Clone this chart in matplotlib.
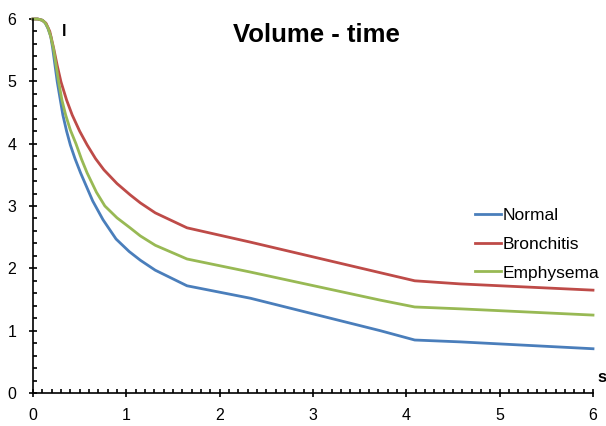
import matplotlib
matplotlib.use("Agg")
import matplotlib.pyplot as plt
from matplotlib.ticker import MultipleLocator

plt.rcParams['font.family'] = ['Liberation Sans', 'DejaVu Sans']

# Data (time in s, volume in l)
normalX = [0, 0.05, 0.1, 0.13, 0.16, 0.19, 0.21, 0.26, 0.32, 0.36, 0.40, 0.45, 0.51, 0.64, 0.75, 0.89,
           1.03, 1.15, 1.31, 1.65, 2.33, 3.72, 4.09, 4.58, 6]
normalY = [6, 6.0, 5.98, 5.94, 5.85, 5.72, 5.54, 4.99, 4.46, 4.2, 3.98, 3.76, 3.53, 3.08, 2.78, 2.47,
           2.27, 2.13, 1.97, 1.72, 1.52, 1.00, 0.85, 0.82, 0.71]

bronchX = [0, 0.05, 0.1, 0.14, 0.18, 0.22, 0.26, 0.30, 0.36, 0.42, 0.50, 0.58, 0.67, 0.76, 0.90,
           1.04, 1.15, 1.31, 1.65, 2.33, 3.72, 4.09, 4.58, 6]
bronchY = [6, 6.0, 5.98, 5.93, 5.8, 5.54, 5.25, 4.99, 4.70, 4.46, 4.2, 3.98, 3.76, 3.58, 3.36,
           3.18, 3.05, 2.89, 2.65, 2.42, 1.93, 1.80, 1.75, 1.65]

emphX = [0, 0.05, 0.1, 0.13, 0.16, 0.19, 0.22, 0.275, 0.31, 0.35, 0.40, 0.46, 0.52, 0.58, 0.68, 0.77, 0.90,
         1.04, 1.15, 1.31, 1.65, 2.33, 3.72, 4.09, 4.58, 6]
emphY = [6, 6.0, 5.98, 5.94, 5.86, 5.72, 5.52, 4.99, 4.70, 4.46, 4.22, 4.0, 3.75, 3.53, 3.22, 3.0, 2.81,
         2.65, 2.52, 2.37, 2.15, 1.94, 1.49, 1.38, 1.35, 1.25]

fig = plt.figure(figsize=(6.06, 4.26), dpi=100)
ax = fig.add_axes([33 / 606, 1 - 393 / 426, 560 / 606, 374 / 426])

lw = 2.0
ax.plot(normalX, normalY, color="#4A7EBB", lw=lw, label="Normal", clip_on=False, solid_joinstyle="round")
ax.plot(bronchX, bronchY, color="#BE4B48", lw=lw, label="Bronchitis", clip_on=False, solid_joinstyle="round")
ax.plot(emphX, emphY, color="#98B954", lw=lw, label="Emphysema", clip_on=False, solid_joinstyle="round")

ax.set_xlim(0, 6)
ax.set_ylim(0, 6)
ax.xaxis.set_major_locator(MultipleLocator(1))
ax.xaxis.set_minor_locator(MultipleLocator(0.1))
ax.yaxis.set_major_locator(MultipleLocator(1))
ax.yaxis.set_minor_locator(MultipleLocator(0.2))

for side in ["top", "right"]:
    ax.spines[side].set_visible(False)
for side in ["left", "bottom"]:
    ax.spines[side].set_linewidth(1.2)

ax.tick_params(which="major", direction="inout", length=6, width=1.2, labelsize=11.5)
ax.tick_params(axis="x", which="major", pad=8)
ax.tick_params(axis="y", which="major", pad=9)
ax.tick_params(which="minor", direction="in", length=3, width=1.2)

fig.text(316 / 606, 1 - 35 / 426, "Volume - time", ha="center", va="center",
         fontsize=18.5, fontweight="bold")
fig.text(62 / 606, 1 - 31 / 426, "l", ha="left", va="center", fontsize=12, fontweight="bold")
fig.text(597 / 606, 1 - 377 / 426, "s", ha="left", va="center", fontsize=12, fontweight="bold")

fig.legend(loc="upper left", bbox_to_anchor=(475 / 606, 1 - 208 / 426), frameon=False,
           fontsize=12.5, handlelength=1.5, handletextpad=0.12, labelspacing=0.78,
           borderpad=0, borderaxespad=0)

fig.savefig("out.png", dpi=100)
